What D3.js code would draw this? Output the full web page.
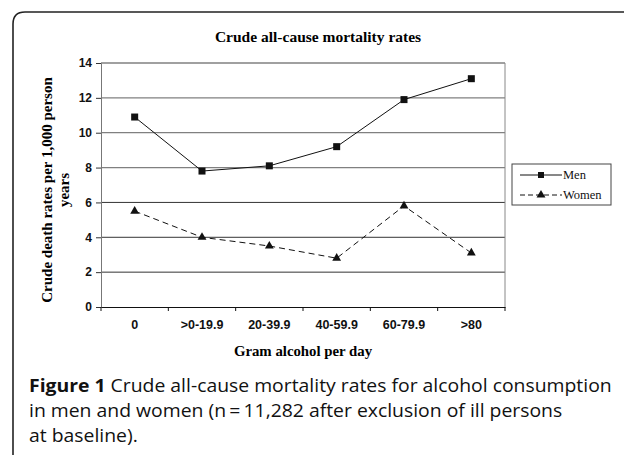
<!DOCTYPE html>
<html>
<head>
<meta charset="utf-8">
<script src="https://cdn.jsdelivr.net/npm/d3@7"></script>
<style>
  body { margin: 0; background: #fff; }
  svg { display: block; }
</style>
</head>
<body>
<svg id="chart" width="624" height="455"></svg>
<script>
// data
var categories = ["0", ">0-19.9", "20-39.9", "40-59.9", "60-79.9", ">80"];
var menRates = [10.9, 7.8, 8.1, 9.2, 11.9, 13.1];
var womenRates = [5.5, 4.0, 3.5, 2.8, 5.8, 3.1];
var yTicks = [0, 2, 4, 6, 8, 10, 12, 14];
var seriesNames = ["Men", "Women"];

var svg = d3.select("#chart");
var serif = "'Liberation Serif', 'Times New Roman', serif";
var sans = "'Liberation Sans', Arial, sans-serif";

// outer frame, rounded top-left corner
svg.append("path")
    .attr("d", "M13,455 L13,24 Q13,12 25,12 L624,12")
    .attr("fill", "none").attr("stroke", "#222").attr("stroke-width", 1.6);

var plotL = 101, plotR = 505, plotT = 63, plotB = 307;

var x = d3.scaleBand().domain(categories).range([plotL, plotR]);
var y = d3.scaleLinear().domain([0, 14]).range([plotB, plotT]);

// gridlines
svg.append("g").selectAll("line")
    .data(yTicks.filter(function (d) { return d > 0; }))
    .join("line")
    .attr("x1", plotL).attr("x2", plotR)
    .attr("y1", function (d) { return y(d); }).attr("y2", function (d) { return y(d); })
    .attr("stroke", function (d) { return d >= 8 ? "#808080" : "#333"; })
    .attr("stroke-width", function (d) { return d >= 8 ? 1.3 : 1; });

// right border of plot area
svg.append("line")
    .attr("x1", plotR).attr("x2", plotR).attr("y1", plotT).attr("y2", plotB)
    .attr("stroke", "#888").attr("stroke-width", 1);

// y axis
var yAxis = svg.append("g")
    .attr("transform", "translate(" + plotL + ",0)")
    .call(d3.axisLeft(y).tickValues(yTicks).tickSize(5).tickPadding(4));
yAxis.select(".domain").attr("stroke", "#777");
yAxis.selectAll(".tick line").attr("stroke", "#333");
yAxis.selectAll("text")
    .attr("font-family", sans).attr("font-weight", "bold").attr("font-size", 12).attr("fill", "#111");

// x axis, ticks between categories
var xAxis = svg.append("g")
    .attr("transform", "translate(0," + plotB + ")")
    .call(d3.axisBottom(x).tickSize(0).tickPadding(13));
xAxis.select(".domain").attr("stroke", "#111");
xAxis.selectAll("text")
    .attr("font-family", sans).attr("font-weight", "bold").attr("font-size", 12.5).attr("fill", "#111");
xAxis.selectAll(".sep")
    .data(categories.map(function (d) { return x(d); }).concat([plotR]))
    .join("line")
    .attr("class", "sep")
    .attr("x1", function (d) { return d; }).attr("x2", function (d) { return d; })
    .attr("y1", 0).attr("y2", 4)
    .attr("stroke", "#111");

var cx = function (d, i) { return x(categories[i]) + x.bandwidth() / 2; };

var line = d3.line()
    .x(function (d, i) { return cx(d, i); })
    .y(function (d) { return y(d); });

// men
svg.append("path")
    .datum(menRates)
    .attr("d", line)
    .attr("fill", "none").attr("stroke", "#111").attr("stroke-width", 1);
svg.append("g").selectAll("rect")
    .data(menRates)
    .join("rect")
    .attr("x", function (d, i) { return cx(d, i) - 3.5; })
    .attr("y", function (d) { return y(d) - 3.5; })
    .attr("width", 7).attr("height", 7)
    .attr("fill", "#111");

// women
svg.append("path")
    .datum(womenRates)
    .attr("d", line)
    .attr("fill", "none").attr("stroke", "#111").attr("stroke-width", 1)
    .attr("stroke-dasharray", "6,4");
var tri = d3.symbol().type(d3.symbolTriangle).size(34);
svg.append("g").selectAll("path")
    .data(womenRates)
    .join("path")
    .attr("d", tri)
    .attr("transform", function (d, i) { return "translate(" + cx(d, i) + "," + y(d) + ")"; })
    .attr("fill", "#111");

// titles
svg.append("text")
    .attr("x", 318).attr("y", 42)
    .attr("text-anchor", "middle")
    .attr("font-family", serif).attr("font-weight", "bold").attr("font-size", 15.5)
    .text("Crude all-cause mortality rates");

svg.append("text")
    .attr("x", 303).attr("y", 356)
    .attr("text-anchor", "middle")
    .attr("font-family", serif).attr("font-weight", "bold").attr("font-size", 14.8)
    .text("Gram alcohol per day");

var yTitle = svg.append("text")
    .attr("transform", "translate(52," + ((plotT + plotB) / 2 + 5) + ") rotate(-90)")
    .attr("text-anchor", "middle")
    .attr("font-family", serif).attr("font-weight", "bold").attr("font-size", 15);
yTitle.append("tspan").attr("x", 0).attr("dy", 0).text("Crude death rates per 1,000 person");
yTitle.append("tspan").attr("x", 0).attr("dy", 17).text("years");

// legend
var legend = svg.append("g").attr("transform", "translate(512,164)");
legend.append("rect")
    .attr("width", 99).attr("height", 41)
    .attr("fill", "#fff").attr("stroke", "#444").attr("stroke-width", 1);
seriesNames.forEach(function (name, i) {
    var ly = 11 + i * 20;
    legend.append("line")
        .attr("x1", 8).attr("x2", 50).attr("y1", ly).attr("y2", ly)
        .attr("stroke", "#111").attr("stroke-width", 1)
        .attr("stroke-dasharray", i === 1 ? "5,3" : null);
    if (i === 0) {
        legend.append("rect").attr("x", 26).attr("y", ly - 3).attr("width", 6).attr("height", 6).attr("fill", "#111");
    } else {
        legend.append("path").attr("d", tri).attr("transform", "translate(29," + ly + ")").attr("fill", "#111");
    }
    legend.append("text")
        .attr("x", 51).attr("y", ly + 4)
        .attr("font-family", serif).attr("font-size", 12.5).attr("fill", "#111")
        .text(name);
});

// caption, squeezed sideways to match the narrow journal font
var caption = [
    [{ t: "Figure 1", b: true }, { t: " Crude all-cause mortality rates for alcohol consumption", b: false }],
    [{ t: "in men and women (n\u2009=\u200911,282 after exclusion of ill persons", b: false }],
    [{ t: "at baseline).", b: false }]
];
var capY = [391.5, 417, 442];
var capTexts = caption.map(function (parts, i) {
    var t = svg.append("text")
        .attr("font-family", "'Open Sans', 'Noto Sans', sans-serif")
        .attr("font-size", 17.5).attr("fill", "#111");
    parts.forEach(function (p) {
        t.append("tspan").attr("font-weight", p.b ? "bold" : "500").text(p.t);
    });
    return t;
});
var sx = 583 / capTexts[0].node().getComputedTextLength();
capTexts.forEach(function (t, i) {
    t.attr("transform", "translate(29," + capY[i] + ") scale(" + sx + ",1)");
});
</script>
</body>
</html>
